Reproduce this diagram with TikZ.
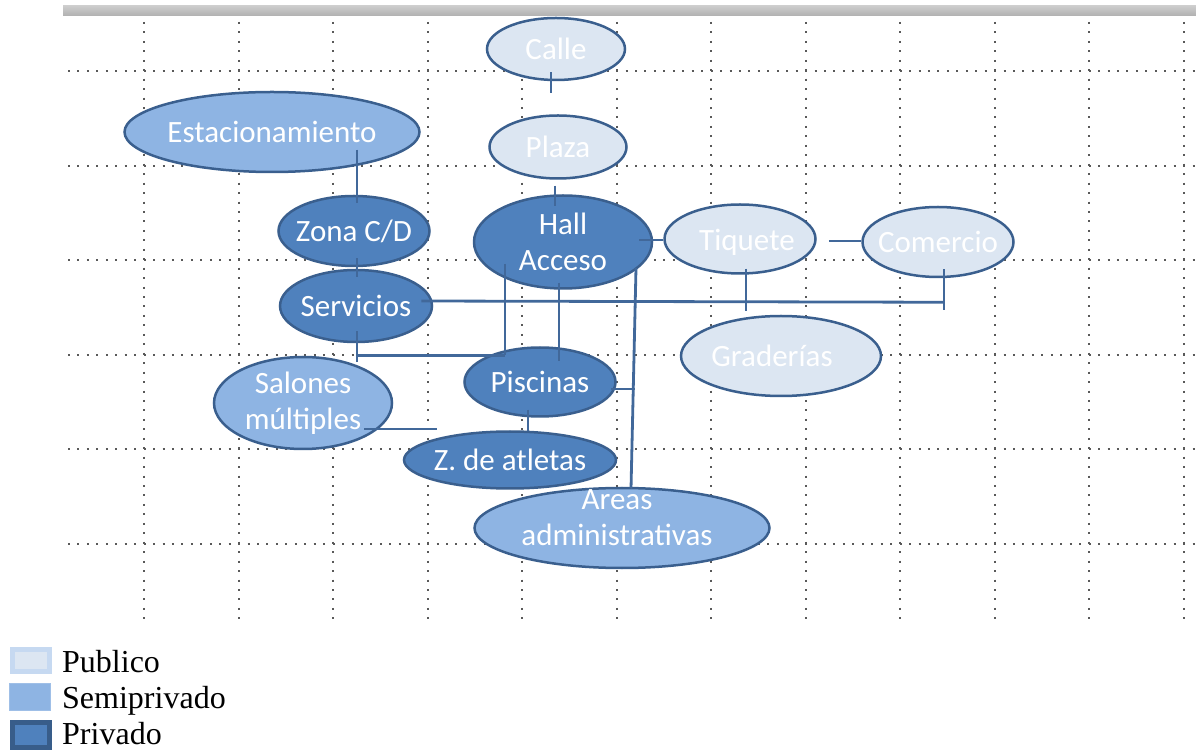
\documentclass[tikz,border=0pt]{standalone}
\usepackage{fontspec}
\setmainfont{Liberation Serif}
\newfontfamily\zonefont{Carlito}
\usetikzlibrary{shapes.geometric,calc}
\definecolor{pubfill}{HTML}{DCE6F2}
\definecolor{semifill}{HTML}{8EB4E3}
\definecolor{privfill}{HTML}{4F81BD}
\definecolor{zoneline}{HTML}{3A5F8E}
\definecolor{linkcol}{HTML}{41689A}
\definecolor{pubedge}{HTML}{C6D9F1}
\definecolor{privedge}{HTML}{385D8A}

\begin{document}
\begin{tikzpicture}[
    x=1pt, y=1pt,
    zonetext/.style={text=white, align=center, font=\zonefont\fontsize{31}{36}\selectfont},
    zone/.style={ellipse, draw=zoneline, line width=2.5pt, inner xsep=-15pt, inner ysep=0pt, zonetext},
    dims/.style 2 args={minimum width=#1pt, minimum height=#2pt},
    pub/.style={zone, fill=pubfill},
    semi/.style={zone, fill=semifill},
    priv/.style={zone, fill=privfill},
    link/.style={linkcol, line width=2.8pt},
    dotline/.style={black!65, line width=2pt, dash pattern=on 2pt off 7.45pt},
    key/.style={rectangle, inner sep=0pt},
    keytext/.style={anchor=base west, inner sep=0pt, font=\rmfamily\fontsize{32}{36}\selectfont}
]
\useasboundingbox (0,0) rectangle (1196,750);

% fondo
\shade[top color=gray!40, bottom color=gray!62] (63,734) rectangle (1196,744);
\foreach \i in {0,...,11}
  \draw[dotline] (144+94.5*\i,728) -- (144+94.5*\i,130);
\foreach \j in {0,...,5}
  \draw[dotline] (68,679-94.6*\j) -- (1196,679-94.6*\j);

% zonas
\node[pub, dims={138}{62}] (calle) at (556,701) {Calle};
\node[pub, dims={137}{63}] (plaza) at (558,603) {Plaza};
\node[semi, dims={295}{80}] (est) at (272,618) {Estacionamiento};
\node[priv, dims={151}{70}] (zona) at (354,519) {Zona C/D};
\node[priv, dims={178}{93}] (hall) at (563,508) {Hall\\Acceso};
\node[pub, dims={151}{69},
      label={[zonetext, xshift=7pt, yshift=-3pt]center:Tiquete}] (tiq) at (740,511) {};
\node[pub, dims={151}{70}] (com) at (938,508) {Comercio};
\node[priv, dims={152}{72}] (serv) at (356,444) {Servicios};
\node[pub, dims={200}{80},
      label={[zonetext, xshift=-9pt]center:Graderías}] (grad) at (781,394) {};
\node[semi, dims={178}{92}] (sal) at (303,347) {Salones\\múltiples};
\node[priv, dims={151}{69}] (pisc) at (540,368) {Piscinas};
\node[priv, dims={212}{57}] (atl) at (510,290) {Z. de atletas};
\node[semi, dims={295}{80},
      label={[zonetext, yshift=10pt, xshift=-5pt]center:{Areas\\administrativas}}] (adm) at (622,222) {};

% relaciones
\draw[link] ($(calle.south)+(-5,9)$) -- ++(0,-21);
\draw[link] ($(plaza.south)+(-3,-6)$) -- ++(0,-20);
\draw[link] ($(zona.north)+(3,45)$) -- ($(zona.north)+(3,-8)$);
\draw[link] ($(zona.south)+(3,9)$) -- ($(serv.north)+(1,-8)$);
\draw[link] ($(hall.east)+(-14,2)$) -- ($(tiq.west)+(0,-1)$);
\draw[link] ($(tiq.east)+(12,-2)$) -- ($(com.west)+(0,1)$);
\draw[link] ($(tiq.south)+(6,6)$) -- ++(0,-42);
\draw[link] ($(com.south)+(6,9)$) -- ++(0,-41);
\draw[link] ($(serv.east)+(-12,5)$) -- ($(com.south)+(6,-24)$);
\draw[link] ($(hall.center)+(73,-26)$) -- ($(adm.north)+(9,-2)$);
\draw[link] ($(pisc.east)+(-6,-7)$) -- ++(24,0);
\draw[link] ($(hall.center)+(-58,-22)$) -- ++(0,-91);
\draw[link] ($(hall.south)+(-4,7)$) -- ($(pisc.north)+(19,-15)$);
\draw[link] ($(serv.south)+(1,12)$) -- ++(0,-31);
\draw[link] ($(serv.south)+(1,-12)$) -- ++(148,0);
\draw[link] ($(pisc.south)+(-12,8)$) -- ++(0,-21);
\draw[link] ($(sal.center)+(61,-26)$) -- ++(73,0);

% leyenda
\node[key, draw=pubedge, line width=5pt, fill=pubfill, minimum width=37pt, minimum height=22pt] (pubkey) at (31,89.5) {};
\node[key, draw=semifill!85!white, line width=1pt, fill=semifill, minimum width=41pt, minimum height=27pt] (semikey) at (30,53) {};
\node[key, draw=privedge, line width=5pt, fill=privfill, minimum width=37pt, minimum height=25pt] (privkey) at (31,15) {};
\node[keytext] (pubtext) at (62,78) {Publico};
\node[keytext] (semitext) at (62,42) {Semiprivado};
\node[keytext] (privtext) at (62,6) {Privado};
\end{tikzpicture}
\end{document}
